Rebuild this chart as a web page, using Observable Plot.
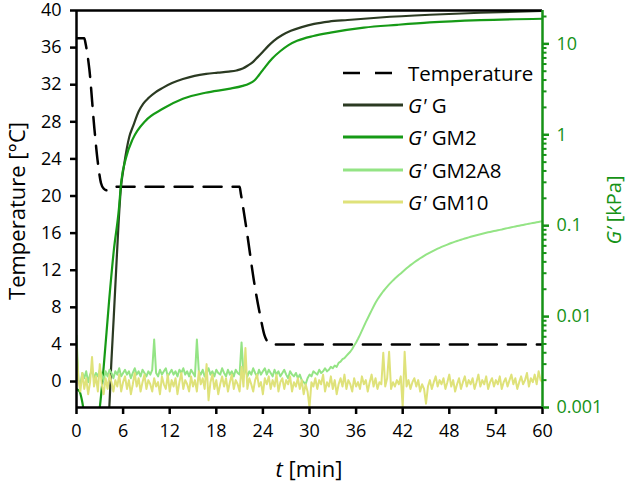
<!DOCTYPE html>
<html><head><meta charset="utf-8">
<script src="https://cdn.jsdelivr.net/npm/d3@7"></script>
<script src="https://cdn.jsdelivr.net/npm/@observablehq/plot@0.6"></script>
<style>body{margin:0;background:#fff;} #chart{position:relative;width:629px;height:482px;}</style>
</head><body><div id="chart"></div>
<script>
// ---------- data ----------
const tempTime = [0,1.0,1.2,1.65,2.3,2.75,3.15,3.5,4.0,4.8,5.3,21.0,21.15,22.0,22.8,23.7,24.2,24.7,25.2,60];
const tempC    = [37,37,36.3,33.7,27.3,23.6,21.4,20.8,20.6,20.9,21.0,21.0,20.3,15.8,11.1,6.9,5.0,4.2,4.0,4.0];

const gTime = [4.1,4.2,4.5,4.8,5.1,5.4,5.7,6.1,6.8,7.3,8.0,8.6,9.3,10.2,11.1,12.3,13.7,15.2,16.7,18.2,19.6,20.6,21.4,22.1,22.7,23.3,24.0,24.7,25.4,26.5,27.6,29.0,30.6,32.5,34.9,39.1,45.5,52,60];
const gVal  = [0.0007,0.00093,0.0033,0.010,0.032,0.10,0.25,0.45,0.95,1.25,1.8,2.2,2.55,2.95,3.28,3.7,4.1,4.45,4.68,4.82,4.95,5.1,5.35,5.8,6.3,7.1,8.2,9.5,10.8,12.5,13.9,15.3,16.6,17.6,18.3,19.5,20.9,22.0,23.0];

const gm2Time = [0,0.4,0.7,1.0,1.2,2.7,2.95,3.5,4.2,4.8,5.45,5.75,6.35,7.25,8.9,11.1,13.7,16.6,19.6,21.4,22.2,22.9,23.5,24.1,25.2,26.3,27.3,28.4,30.5,32.7,37.0,41.3,45.5,52,60];
const gm2Val  = [0.0016,0.0015,0.0012,0.00085,0.0007,0.0007,0.00093,0.0028,0.015,0.053,0.15,0.30,0.55,0.90,1.43,1.93,2.49,2.90,3.20,3.45,3.65,3.95,4.55,5.3,6.9,8.4,9.7,10.8,12.2,13.3,15.1,16.2,17.2,18.2,18.9];

// sampling times of the two noisy series (every 0.25 min)
const noiseTime = [0,0.25,0.5,0.75,1,1.25,1.5,1.75,2,2.25,2.5,2.75,3,3.25,3.5,3.75,4,4.25,4.5,4.75,
  5,5.25,5.5,5.75,6,6.25,6.5,6.75,7,7.25,7.5,7.75,8,8.25,8.5,8.75,9,9.25,9.5,9.75,
  10,10.25,10.5,10.75,11,11.25,11.5,11.75,12,12.25,12.5,12.75,13,13.25,13.5,13.75,14,14.25,14.5,14.75,
  15,15.25,15.5,15.75,16,16.25,16.5,16.75,17,17.25,17.5,17.75,18,18.25,18.5,18.75,19,19.25,19.5,19.75,
  20,20.25,20.5,20.75,21,21.25,21.5,21.75,22,22.25,22.5,22.75,23,23.25,23.5,23.75,24,24.25,24.5,24.75,
  25,25.25,25.5,25.75,26,26.25,26.5,26.75,27,27.25,27.5,27.75,28,28.25,28.5,28.75,29,29.25,29.5,29.75,
  30,30.25,30.5,30.75,31,31.25,31.5,31.75,32,32.25,32.5,32.75,33,33.25,33.5,33.75,34,34.25,34.5,34.75,
  35,35.25,35.5,35.75,36,36.25,36.5,36.75,37,37.25,37.5,37.75,38,38.25,38.5,38.75,39,39.25,39.5,39.75,
  40,40.25,40.5,40.75,41,41.25,41.5,41.75,42,42.25,42.5,42.75,43,43.25,43.5,43.75,44,44.25,44.5,44.75,
  45,45.25,45.5,45.75,46,46.25,46.5,46.75,47,47.25,47.5,47.75,48,48.25,48.5,48.75,49,49.25,49.5,49.75,
  50,50.25,50.5,50.75,51,51.25,51.5,51.75,52,52.25,52.5,52.75,53,53.25,53.5,53.75,54,54.25,54.5,54.75,
  55,55.25,55.5,55.75,56,56.25,56.5,56.75,57,57.25,57.5,57.75,58,58.25,58.5,58.75,59,59.25,59.5,59.75,
  60];

const gm2a8Val = [
  0.0062,0.0020,0.0018,0.0024,0.0021,0.0025,0.0019,0.0023,0.0026,0.0021,0.0024,0.0022,0.0026,0.0023,0.0020,0.0025,0.0022,0.0026,0.0024,0.0021,
  0.0025,0.0023,0.0027,0.0022,0.0024,0.0026,0.0023,0.0025,0.0021,0.0024,0.0027,0.0023,0.0025,0.0022,0.0026,0.0024,0.0022,0.0025,0.0023,0.0026,
  0.0056,0.0024,0.0022,0.0026,0.0023,0.0025,0.0027,0.0022,0.0024,0.0026,0.0023,0.0025,0.0022,0.0026,0.0024,0.0027,0.0023,0.0025,0.0022,0.0026,
  0.0024,0.0022,0.0056,0.0025,0.0023,0.0026,0.0022,0.0024,0.0027,0.0023,0.0025,0.0022,0.0026,0.0024,0.0023,0.0027,0.0024,0.0022,0.0026,0.0023,
  0.0025,0.0022,0.0026,0.0024,0.0023,0.0052,0.0024,0.0026,0.0022,0.0025,0.0023,0.0027,0.0024,0.0022,0.0026,0.0023,0.0025,0.0027,0.0023,0.0026,
  0.0024,0.0022,0.0026,0.0023,0.0025,0.0022,0.0024,0.0026,0.0023,0.0021,0.0025,0.0023,0.0022,0.0024,0.0021,0.0023,0.0020,0.0019,0.0018,0.0021,
  0.0023,0.0022,0.0025,0.0024,0.0023,0.0026,0.0024,0.0025,0.0027,0.0025,0.0026,0.0028,0.0027,0.0029,0.0028,0.0031,0.0032,0.0034,0.0035,0.0037,
  0.0039,0.0041,0.0044,0.0048,0.0052,0.0057,0.0063,0.0070,0.0078,0.0087,0.0096,0.0106,0.0117,0.0129,0.0142,0.0154,0.0166,0.0178,0.0190,0.0202,
  0.0214,0.0226,0.0238,0.0250,0.0262,0.0274,0.0286,0.0298,0.0312,0.0326,0.0340,0.0354,0.0368,0.0382,0.0396,0.0410,0.0424,0.0438,0.0452,0.0466,
  0.0480,0.0493,0.0506,0.0519,0.0532,0.0545,0.0558,0.0571,0.0584,0.0596,0.0608,0.0620,0.0632,0.0644,0.0656,0.0667,0.0678,0.0689,0.0700,0.0711,
  0.0722,0.0733,0.0744,0.0755,0.0766,0.0776,0.0786,0.0796,0.0806,0.0816,0.0826,0.0836,0.0845,0.0854,0.0863,0.0872,0.0881,0.0890,0.0899,0.0908,
  0.0920,0.0930,0.0940,0.0950,0.0960,0.0970,0.0980,0.0990,0.1000,0.1010,0.1020,0.1030,0.1040,0.1050,0.1060,0.1070,0.1080,0.1090,0.1100,0.1110,
  0.1120];

const gm10Val = [
  0.0045,0.0020,0.0015,0.0024,0.0016,0.0021,0.0014,0.0019,0.0036,0.0017,0.0022,0.0015,0.0030,0.0018,0.0014,0.0021,0.0016,0.0023,0.0019,0.0015,
  0.0020,0.0017,0.0023,0.0015,0.0019,0.0022,0.0016,0.0020,0.0014,0.0018,0.0024,0.0017,0.0021,0.0015,0.0019,0.0023,0.0016,0.0020,0.0018,0.0015,
  0.0021,0.0017,0.0019,0.0014,0.0022,0.0018,0.0016,0.0023,0.0015,0.0020,0.0017,0.0021,0.0014,0.0019,0.0024,0.0016,0.0020,0.0018,0.0015,0.0022,
  0.0017,0.0020,0.0015,0.0025,0.0018,0.0021,0.0016,0.0030,0.0012,0.0019,0.0023,0.0016,0.0020,0.0014,0.0018,0.0022,0.0017,0.0021,0.0015,0.0019,
  0.0023,0.0016,0.0020,0.0018,0.0015,0.0028,0.0017,0.0045,0.0016,0.0021,0.0018,0.0015,0.0020,0.0023,0.0017,0.0019,0.0014,0.0021,0.0018,0.0022,
  0.0016,0.0020,0.0017,0.0023,0.0015,0.0019,0.0021,0.0016,0.0020,0.0018,0.0022,0.0015,0.0019,0.0017,0.0021,0.0016,0.0020,0.0014,0.0018,0.0015,
  0.0010,0.0019,0.0017,0.0021,0.0016,0.0020,0.0018,0.0023,0.0015,0.0019,0.0017,0.0022,0.0016,0.0020,0.0014,0.0018,0.0021,0.0017,0.0023,0.0016,
  0.0020,0.0018,0.0015,0.0021,0.0017,0.0019,0.0016,0.0022,0.0018,0.0020,0.0015,0.0019,0.0023,0.0017,0.0021,0.0016,0.0019,0.0018,0.0040,0.0017,
  0.0021,0.0041,0.0016,0.0019,0.0017,0.0020,0.0018,0.0022,0.0010,0.0041,0.0017,0.0020,0.0016,0.0019,0.0021,0.0017,0.0020,0.0015,0.0018,0.0016,
  0.0011,0.0017,0.0020,0.0016,0.0019,0.0022,0.0017,0.0020,0.0018,0.0021,0.0016,0.0019,0.0023,0.0017,0.0020,0.0015,0.0018,0.0021,0.0016,0.0019,
  0.0022,0.0017,0.0020,0.0018,0.0021,0.0016,0.0019,0.0023,0.0017,0.0020,0.0018,0.0022,0.0016,0.0019,0.0021,0.0017,0.0020,0.0018,0.0022,0.0016,
  0.0019,0.0021,0.0017,0.0020,0.0023,0.0018,0.0021,0.0016,0.0019,0.0022,0.0018,0.0020,0.0024,0.0017,0.0021,0.0019,0.0023,0.0018,0.0025,0.0020,
  0.0019];

const xTicks = [0,6,12,18,24,30,36,42,48,54,60];
const tempTicks = [0,4,8,12,16,20,24,28,32,36,40];
const gMajor = [0.001,0.01,0.1,1,10];
const gMajorLabels = ["0.001","0.01","0.1","1","10"];
const gMinor = [0.002,0.003,0.004,0.005,0.006,0.007,0.008,0.009,
  0.02,0.03,0.04,0.05,0.06,0.07,0.08,0.09,
  0.2,0.3,0.4,0.5,0.6,0.7,0.8,0.9,
  2,3,4,5,6,7,8,9,20];

const seriesNames = ["Temperature","G","GM2","GM2A8","GM10"];
const seriesColors = ["#000000","#2b3a22","#169a16","#94e485","#dfe27a"];

// ---------- scales ----------
const yMin = -2.8, yMax = 40;
const gLogMin = -3, gLogMax = 1.367;
const g2y = g => yMin + (Math.log10(g) - gLogMin) / (gLogMax - gLogMin) * (yMax - yMin);
const green = "#169216";

const toRows = (ts, vs, f) => ts.map((t, i) => ({t, v: f ? f(vs[i]) : vs[i]}));
const tempData = toRows(tempTime, tempC);
const gData = toRows(gTime, gVal, g2y);
const gm2Data = toRows(gm2Time, gm2Val, g2y);
const gm2a8Data = toRows(noiseTime, gm2a8Val, g2y);
const gm10Data = toRows(noiseTime, gm10Val, g2y);

const majorY = gMajor.map(g2y);
const labelOf = new Map(majorY.map((y, i) => [y, gMajorLabels[i]]));

const plot = Plot.plot({
  width: 629, height: 482,
  marginLeft: 76, marginRight: 87, marginTop: 10, marginBottom: 75,
  style: {fontFamily: "'Open Sans', sans-serif", fontSize: "18px", color: "black", background: "white", overflow: "visible"},
  x: {domain: [0, 60]},
  y: {domain: [yMin, yMax]},
  marks: [
    Plot.line(tempData, {x: "t", y: "v", stroke: seriesColors[0], strokeWidth: 2.5, strokeDasharray: "18,11", curve: "monotone-x", clip: true}),
    Plot.line(gData, {x: "t", y: "v", stroke: seriesColors[1], strokeWidth: 2.2, curve: "monotone-x", clip: true}),
    Plot.line(gm2Data, {x: "t", y: "v", stroke: seriesColors[2], strokeWidth: 2.2, curve: "monotone-x", clip: true}),
    Plot.line(gm2a8Data, {x: "t", y: "v", stroke: seriesColors[3], strokeWidth: 2, clip: true}),
    Plot.line(gm10Data, {x: "t", y: "v", stroke: seriesColors[4], strokeWidth: 2, clip: true}),
    Plot.ruleY([yMin], {stroke: "black", strokeWidth: 2.5}),
    Plot.ruleY([yMax], {stroke: "black", strokeWidth: 2.5}),
    Plot.ruleX([0], {stroke: "black", strokeWidth: 2.5}),
    Plot.ruleX([60], {stroke: green, strokeWidth: 2.5}),
    Plot.axisX({ticks: xTicks, tickSize: 7, tickPadding: 10, label: null, strokeWidth: 2.5, tickFormat: d => String(d)}),
    Plot.axisY({ticks: tempTicks, tickSize: 6, tickPadding: 9, label: null, strokeWidth: 2.5, tickFormat: d => String(d)}),
    Plot.axisY({anchor: "right", ticks: majorY, tickFormat: d => labelOf.get(d), tickSize: 6, tickPadding: 8, label: null, color: green, strokeWidth: 2.5}),
    Plot.axisY({anchor: "right", ticks: gMinor.map(g2y), tickFormat: () => "", tickSize: 3.5, label: null, color: green, strokeWidth: 2})
  ]
});
document.getElementById("chart").appendChild(plot);

// ---------- titles & legend ----------
const svg = d3.select(plot);
const font = "'Open Sans', sans-serif";
svg.append("text").attr("transform", "translate(16,211) rotate(-90)")
  .attr("text-anchor", "middle").attr("dominant-baseline", "central")
  .attr("font-family", font).attr("font-size", 22).attr("fill", "black")
  .text("Temperature [°C]");
const xt = svg.append("text").attr("x", 309).attr("y", 468)
  .attr("text-anchor", "middle").attr("dominant-baseline", "central")
  .attr("font-family", font).attr("font-size", 22).attr("fill", "black");
xt.append("tspan").attr("font-style", "italic").text("t");
xt.append("tspan").text(" [min]");
const yt = svg.append("text").attr("transform", "translate(613,210) rotate(-90)")
  .attr("text-anchor", "middle").attr("dominant-baseline", "central")
  .attr("font-family", font).attr("font-size", 20).attr("fill", green);
yt.append("tspan").attr("font-style", "italic").text("G’");
yt.append("tspan").text(" [kPa]");

const rowsY = [73, 105, 137, 170, 202];
const lg = svg.append("g");
seriesNames.forEach((name, i) => {
  const y = rowsY[i];
  const line = lg.append("line").attr("x1", 343).attr("x2", i === 0 ? 392 : 403)
    .attr("y1", y).attr("y2", y).attr("stroke", seriesColors[i]).attr("stroke-width", i === 0 ? 2.5 : 3);
  if (i === 0) line.attr("stroke-dasharray", "17,15");
  const t = lg.append("text").attr("x", 408).attr("y", y).attr("dominant-baseline", "central")
    .attr("text-anchor", "start")
    .attr("font-family", font).attr("font-size", 20.5).attr("fill", "black");
  if (i === 0) t.text(name);
  else { t.append("tspan").attr("font-style", "italic").text("G'"); t.append("tspan").text(" " + name); }
});
</script></body></html>
